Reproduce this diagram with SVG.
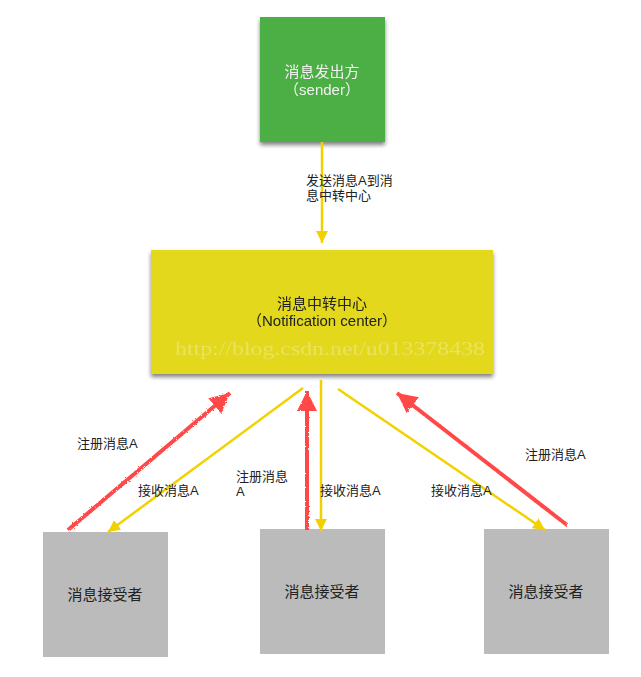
<svg xmlns="http://www.w3.org/2000/svg" width="641" height="677" viewBox="0 0 641 677">
<style>
.lbl{font-family:"Liberation Sans","Noto Sans CJK SC",sans-serif;font-size:13px;fill:#222;}
.node{font-family:"Liberation Sans","Noto Sans CJK SC",sans-serif;font-size:15px;text-anchor:middle;}
.yl{stroke:#f3d100;stroke-width:2.5;fill:none;}
.rd{stroke:#ff4a4a;stroke-width:4;fill:none;}
</style>
<defs>
<filter id="shadow" x="-10%" y="-10%" width="120%" height="130%">
<feGaussianBlur in="SourceAlpha" stdDeviation="2"/>
<feOffset dx="0" dy="3" result="b"/>
<feComponentTransfer><feFuncA type="linear" slope="0.5"/></feComponentTransfer>
<feMerge><feMergeNode/><feMergeNode in="SourceGraphic"/></feMerge>
</filter>
<filter id="rough" x="-20%" y="-20%" width="140%" height="140%">
<feTurbulence type="fractalNoise" baseFrequency="1.2" numOctaves="2" result="n"/>
<feDisplacementMap in="SourceGraphic" in2="n" scale="2.5"/>
</filter>
<marker id="ya" markerUnits="userSpaceOnUse" viewBox="0 0 12 12" refX="12" refY="6" markerWidth="12" markerHeight="12" orient="auto">
<path d="M0,0 L12,6 L0,12 z" fill="#f3d100"/>
</marker>
<marker id="ra" markerUnits="userSpaceOnUse" viewBox="0 0 20 20" refX="20" refY="10" markerWidth="20" markerHeight="20" orient="auto">
<path d="M0,0 L20,10 L0,20 z" fill="#ff4a4a"/>
</marker>
</defs>
<rect width="641" height="677" fill="#fff"/>

<g id="sender" filter="url(#shadow)">
<rect x="260" y="17" width="125" height="125" fill="#4caf44"/>
<text class="node" x="322" y="77" fill="#f2f2f2">消息发出方</text>
<text class="node" x="322" y="95" fill="#f2f2f2">（sender）</text>
</g>

<g id="center" filter="url(#shadow)">
<rect x="151" y="250" width="342" height="124" fill="#e3d81c"/>
<text class="node" x="322" y="309" fill="#222">消息中转中心</text>
<text class="node" x="322" y="326" fill="#222">（Notification center）</text>
<text x="330" y="355" text-anchor="middle" font-family="Liberation Serif,serif" font-size="19" textLength="310" lengthAdjust="spacingAndGlyphs" fill="#ffffff" fill-opacity="0.28">http://blog.csdn.net/u013378438</text>
</g>

<g id="receiver1">
<rect x="43" y="532" width="125" height="125" fill="#bbbbbb"/>
<text class="node" x="105" y="600" fill="#222">消息接受者</text>
</g>
<g id="receiver2">
<rect x="260" y="529" width="125" height="125" fill="#bbbbbb"/>
<text class="node" x="322" y="597" fill="#222">消息接受者</text>
</g>
<g id="receiver3">
<rect x="484" y="529" width="125" height="125" fill="#bbbbbb"/>
<text class="node" x="546" y="597" fill="#222">消息接受者</text>
</g>

<g id="connectors">
<line class="yl" x1="322" y1="142" x2="322" y2="243" marker-end="url(#ya)"/>
<line class="yl" x1="303" y1="388" x2="108" y2="532" marker-end="url(#ya)"/>
<line class="yl" x1="321" y1="380" x2="321" y2="531" marker-end="url(#ya)"/>
<line class="yl" x1="338" y1="389" x2="545" y2="530" marker-end="url(#ya)"/>
<g filter="url(#rough)">
<line class="rd" x1="68" y1="530" x2="230" y2="393" marker-end="url(#ra)"/>
<line class="rd" x1="307" y1="530" x2="307" y2="391" marker-end="url(#ra)"/>
<line class="rd" x1="567" y1="525" x2="397" y2="393" marker-end="url(#ra)"/>
</g>
<text class="lbl" x="306" y="185">发送消息A到消</text>
<text class="lbl" x="306" y="200">息中转中心</text>
<text class="lbl" x="77" y="448">注册消息A</text>
<text class="lbl" x="138" y="495">接收消息A</text>
<text class="lbl" x="236" y="481">注册消息</text>
<text class="lbl" x="236" y="496">A</text>
<text class="lbl" x="320" y="495">接收消息A</text>
<text class="lbl" x="431" y="495">接收消息A</text>
<text class="lbl" x="525" y="459">注册消息A</text>
</g>
</svg>
